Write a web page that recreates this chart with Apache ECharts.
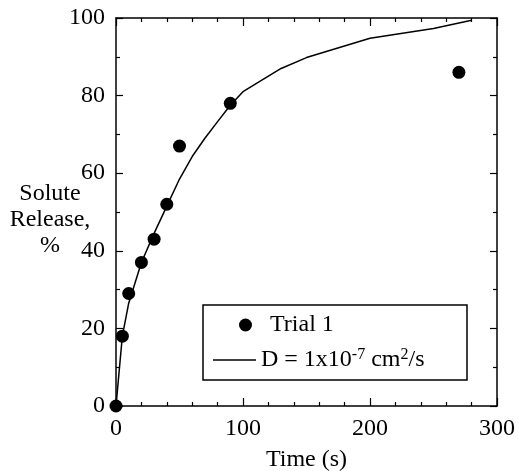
<!DOCTYPE html>
<html>
<head>
<meta charset="utf-8">
<script src="https://cdn.jsdelivr.net/npm/echarts@6/dist/echarts.min.js"></script>
<style>html,body{margin:0;padding:0;background:#fff}#c{width:518px;height:471px}</style>
</head>
<body>
<div id="c"></div>
<script>
// Trial 1 measurements: time (s), solute release (%)
const trialTime = [0, 5, 10, 20, 30, 40, 50, 90, 270];
const trialRelease = [0, 18, 29, 37, 43, 52, 67, 78, 86];
// Model curve D = 1x10^-7 cm^2/s
const modelTime = [0, 5, 10, 20, 30, 40, 50, 60, 70, 80, 90, 100, 130, 150, 200, 250, 280];
const modelRelease = [0, 18, 26.5, 37, 44.5, 51.5, 58.5, 64.3, 69, 73.3, 77.5, 81, 87, 89.8, 94.8, 97.3, 99.4];
const xTicks = [0, 100, 200, 300];
const yTicks = [0, 20, 40, 60, 80, 100];

const FONT = 'Liberation Serif';
const chart = echarts.init(document.getElementById('c'));
function inside(len) { return { show: true, inside: true, length: len, lineStyle: { color: '#000', width: 1.2 } }; }
const line = { show: true, onZero: false, lineStyle: { color: '#000', width: 1.5 } };

chart.setOption({
  animation: false,
  backgroundColor: '#fff',
  grid: { left: 116, right: 21, top: 18, bottom: 65, containLabel: false, outerBoundsMode: 'none' },
  xAxis: [
    {
      type: 'value', min: xTicks[0], max: xTicks[xTicks.length - 1], interval: 100,
      axisLine: line, axisTick: inside(8), splitLine: { show: false },
      minorTick: Object.assign({ splitNumber: 5 }, inside(4)),
      axisLabel: { color: '#000', fontFamily: FONT, fontSize: 24, margin: 11 },
      name: 'Time (s)', nameLocation: 'middle', nameGap: 42,
      nameTextStyle: { color: '#000', fontFamily: FONT, fontSize: 24 }
    },
    {
      type: 'value', position: 'top', min: 0, max: 300, interval: 100,
      axisLine: line, axisTick: inside(8), splitLine: { show: false },
      minorTick: Object.assign({ splitNumber: 5 }, inside(4)),
      axisLabel: { show: false }
    }
  ],
  yAxis: [
    {
      type: 'value', min: yTicks[0], max: yTicks[yTicks.length - 1], interval: 20,
      axisLine: line, axisTick: inside(7), splitLine: { show: false },
      minorTick: Object.assign({ splitNumber: 2 }, inside(4)),
      axisLabel: { color: '#000', fontFamily: FONT, fontSize: 24, margin: 11 }
    },
    {
      type: 'value', position: 'right', min: 0, max: 100, interval: 20,
      axisLine: line, axisTick: inside(7), splitLine: { show: false },
      minorTick: Object.assign({ splitNumber: 2 }, inside(4)),
      axisLabel: { show: false }
    }
  ],
  legend: [
    {
      data: ['Trial 1'], left: 234, top: 308, icon: 'circle', itemWidth: 13, itemHeight: 13,
      textStyle: { color: '#000', fontFamily: FONT, fontSize: 24, padding: [0, 0, 0, 13] }
    },
    {
      data: [{ name: 'D = 1x10-7 cm2/s', icon: 'rect' }], left: 208, top: 342, itemWidth: 43, itemHeight: 1.5,
      formatter: () => 'D = 1x10{sup|-7} cm{sup|2}/s',
      textStyle: {
        color: '#000', fontFamily: FONT, fontSize: 24, lineHeight: 26,
        rich: { sup: { fontFamily: FONT, fontSize: 16, verticalAlign: 'top', lineHeight: 26, padding: [0, 0, 10, 0] } }
      }
    }
  ],
  graphic: [
    { type: 'rect', shape: { x: 203, y: 305, width: 264, height: 75 }, style: { fill: 'none', stroke: '#000', lineWidth: 1.5 }, z: 0 },
    { type: 'text', x: 50, y: 181, style: { text: 'Solute\nRelease,\n%', fill: '#000', font: '24px "Liberation Serif"', align: 'center', verticalAlign: 'top', lineHeight: 26 } }
  ],
  series: [
    {
      name: 'D = 1x10-7 cm2/s', type: 'line', symbol: 'none', clip: false,
      lineStyle: { color: '#000', width: 1.5 }, itemStyle: { color: '#000' },
      data: modelTime.map((t, i) => [t, modelRelease[i]]), z: 2
    },
    {
      name: 'Trial 1', type: 'scatter', symbol: 'circle', symbolSize: 13, clip: false,
      itemStyle: { color: '#000', opacity: 1 },
      data: trialTime.map((t, i) => [t, trialRelease[i]]), z: 3
    }
  ]
});
</script>
</body>
</html>
